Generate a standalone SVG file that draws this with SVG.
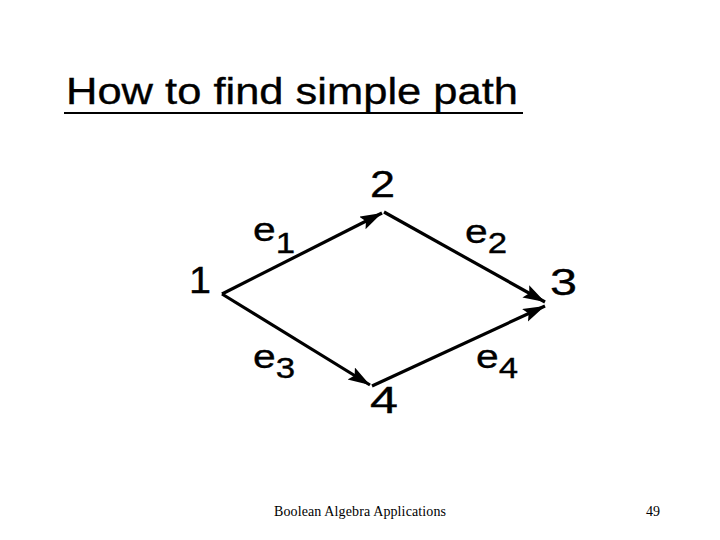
<svg xmlns="http://www.w3.org/2000/svg" width="720" height="540" viewBox="0 0 720 540">
  <style>
    .lbl { font-family: "Liberation Sans", Arial, sans-serif; fill: #000; stroke: #000; stroke-width: 0.35; }
    .num { font-size: 36px; }
    .e { font-size: 34px; }
    .sub { font-size: 29px; }
    .foot { font-family: "Liberation Serif", "Times New Roman", serif; font-size: 14px; fill: #000; }
    .edge { stroke: #000; stroke-width: 3.2; fill: none; marker-end: url(#arrow); }
  </style>
  <defs>
    <marker id="arrow" markerUnits="userSpaceOnUse" markerWidth="24" markerHeight="16" refX="22" refY="7" orient="auto">
      <path d="M0,0 L22,7 L0,14 L4,7 Z" fill="#000"/>
    </marker>
  </defs>
  <rect width="720" height="540" fill="#fff"/>
  <g id="title">
    <text class="lbl" x="66" y="104" font-size="37" stroke-width="0.2" textLength="452" lengthAdjust="spacingAndGlyphs">How to find simple path</text>
    <line x1="64" y1="113" x2="523" y2="113" stroke="#000" stroke-width="2"/>
  </g>
  <g id="connectors">
    <line class="edge" x1="222" y1="294" x2="382" y2="213"/>
    <line class="edge" x1="384" y1="212" x2="545" y2="302"/>
    <line class="edge" x1="222" y1="294" x2="370" y2="385"/>
    <line class="edge" x1="372" y1="386" x2="545" y2="306"/>
  </g>
  <g id="node1"><text class="lbl num" x="189" y="293" textLength="22" lengthAdjust="spacingAndGlyphs">1</text></g>
  <g id="node2"><text class="lbl num" x="370" y="197" textLength="25" lengthAdjust="spacingAndGlyphs">2</text></g>
  <g id="node3"><text class="lbl num" x="550" y="295" textLength="27" lengthAdjust="spacingAndGlyphs">3</text></g>
  <g id="node4"><text class="lbl num" x="370" y="413" textLength="28" lengthAdjust="spacingAndGlyphs">4</text></g>
  <g id="label-e1"><text class="lbl e" transform="translate(253,241) scale(1.2,1)">e<tspan class="sub" dy="12">1</tspan></text></g>
  <g id="label-e2"><text class="lbl e" transform="translate(465,243) scale(1.2,1)">e<tspan class="sub" dy="10">2</tspan></text></g>
  <g id="label-e3"><text class="lbl e" transform="translate(253,368) scale(1.2,1)">e<tspan class="sub" dy="10">3</tspan></text></g>
  <g id="label-e4"><text class="lbl e" transform="translate(476,368) scale(1.2,1)">e<tspan class="sub" dy="10">4</tspan></text></g>
  <g id="footer">
    <text class="foot" x="274" y="516" textLength="172">Boolean Algebra Applications</text>
    <text class="foot" x="646" y="516">49</text>
  </g>
</svg>
